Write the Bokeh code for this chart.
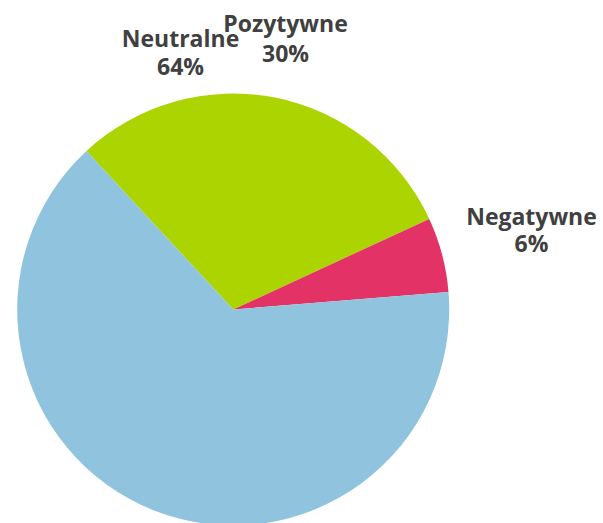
import numpy as np
from bokeh.plotting import figure
from bokeh.models import ColumnDataSource, Range1d
from bokeh.core.properties import value
from bokeh.embed import file_html
from bokeh.resources import INLINE

categories = ["Pozytywne", "Negatywne", "Neutralne"]
shares = [30.0, 5.6, 64.4]
share_labels = ["30%", "6%", "64%"]
colors = ["#ACD400", "#E33366", "#8FC3DE"]

W, H = 603, 523
cx, cy, r = 232.7, 214, 216
start_deg = 132.8

vals = np.array(shares, dtype=float)
fr = vals / vals.sum()
ends = np.deg2rad(start_deg) - 2 * np.pi * np.cumsum(fr)
starts = np.concatenate([[np.deg2rad(start_deg)], ends[:-1]])

src = ColumnDataSource(dict(x=[cx] * 3, y=[cy] * 3, s=ends, e=starts, c=colors))

p = figure(width=W, height=H, output_backend="svg", toolbar_location=None,
           x_range=Range1d(0, W), y_range=Range1d(0, H), min_border=0)
p.axis.visible = False
p.grid.visible = False
p.outline_line_color = None
p.background_fill_color = "white"

p.wedge(x="x", y="y", radius=r, start_angle="s", end_angle="e", direction="anticlock",
        fill_color="c", line_color=None, source=src)

label_order = ["Neutralne", "Pozytywne", "Negatywne"]
label_pos = {"Neutralne": (180, 486, 458), "Pozytywne": (285, 501, 471), "Negatywne": (531, 308, 281)}
tx, ty, tt = [], [], []
for name in label_order:
    i = categories.index(name)
    x, y1, y2 = label_pos[name]
    tx += [x, x]
    ty += [y1, y2]
    tt += [name, share_labels[i]]

p.text(x=tx, y=ty, text=tt, text_align="center", text_baseline="middle",
       text_font=value("Open Sans"), text_font_style="bold", text_font_size="23px",
       text_color="#404040")

open("out.html", "w").write(file_html(p, INLINE))
